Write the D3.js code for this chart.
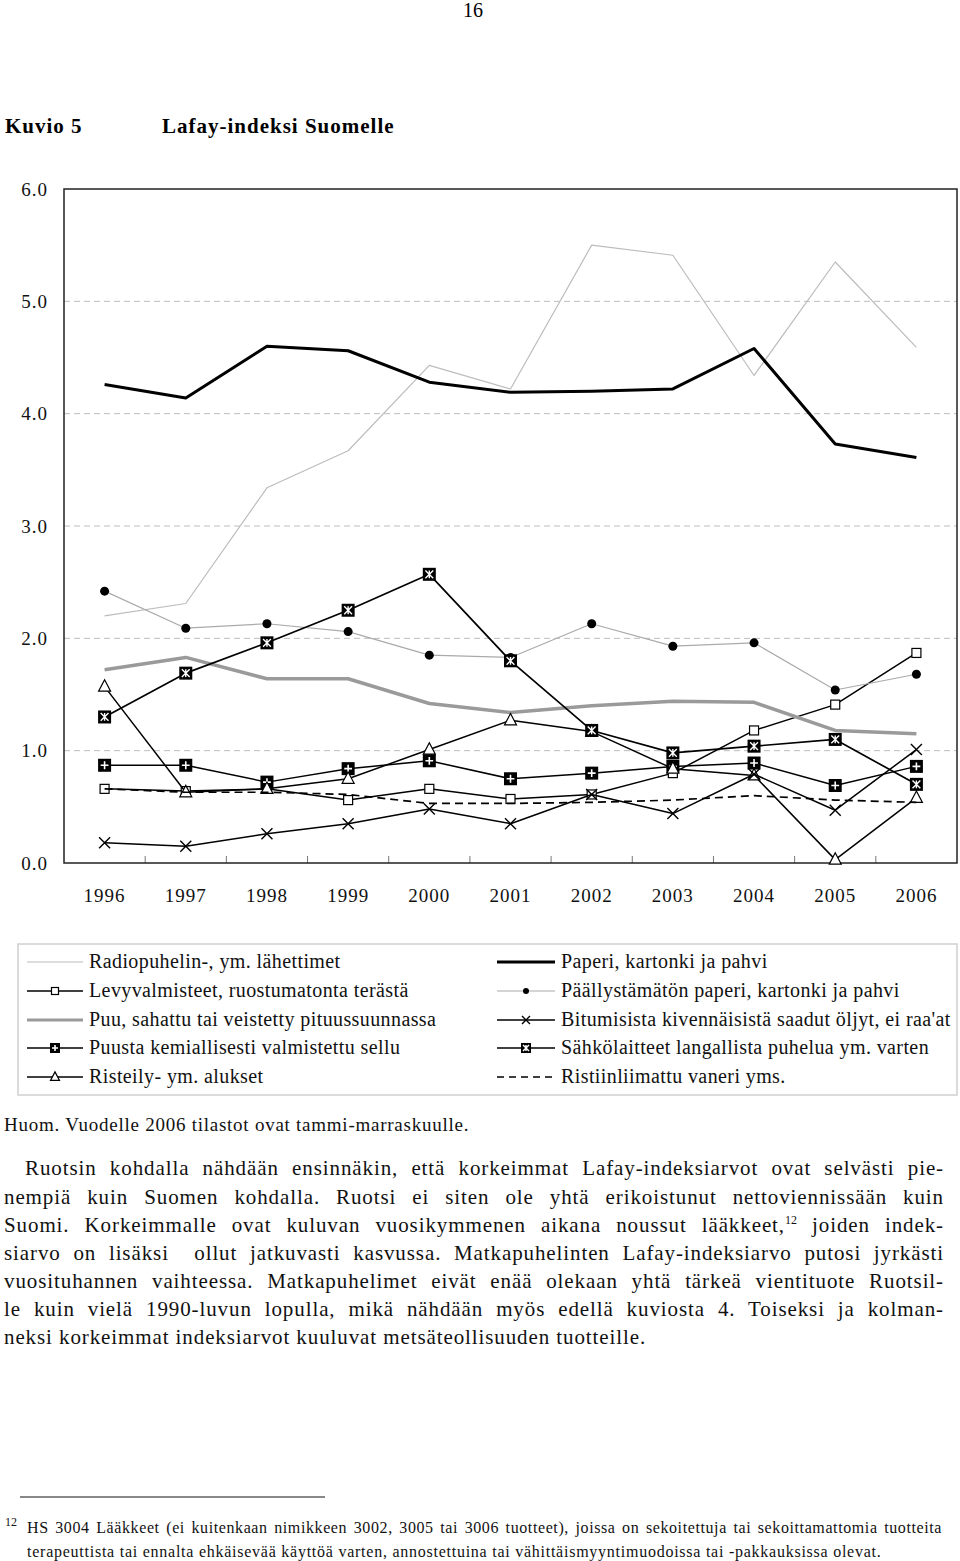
<!DOCTYPE html>
<html>
<head>
<meta charset="utf-8">
<script src="https://cdn.jsdelivr.net/npm/d3@7"></script>
<style>
body { margin: 0; background: #fff; }
#page { position: relative; width: 960px; height: 1561px; font-family: "Liberation Serif", "DejaVu Serif", serif; color: #111; overflow: hidden; }
#page svg { position: absolute; left: 0; top: 0; }
.ln { position: absolute; white-space: nowrap; display: inline-block; }
sup { font-size: 12px; line-height: 0; vertical-align: 8px; letter-spacing: 0; }
</style>
</head>
<body>
<div id="page"></div>
<script>
var years = ['1996', '1997', '1998', '1999', '2000', '2001', '2002', '2003', '2004', '2005', '2006'];
var yTicks = [0, 1, 2, 3, 4, 5, 6];

var radiopuhelin   = [2.20, 2.31, 3.34, 3.67, 4.43, 4.22, 5.50, 5.41, 4.34, 5.35, 4.59];
var paperi         = [4.26, 4.14, 4.60, 4.56, 4.28, 4.19, 4.20, 4.22, 4.58, 3.73, 3.61];
var paallystamaton = [2.42, 2.09, 2.13, 2.06, 1.85, 1.83, 2.13, 1.93, 1.96, 1.54, 1.68];
var levyvalmisteet = [0.66, 0.64, 0.66, 0.56, 0.66, 0.57, 0.61, 0.80, 1.18, 1.41, 1.87];
var puu            = [1.72, 1.83, 1.64, 1.64, 1.42, 1.34, 1.40, 1.44, 1.43, 1.18, 1.15];
var sellu          = [0.87, 0.87, 0.72, 0.84, 0.91, 0.75, 0.80, 0.86, 0.89, 0.69, 0.86];
var risteily       = [1.57, 0.63, 0.66, 0.75, 1.01, 1.27, 1.17, 0.84, 0.78, 0.03, 0.58];
var bitumi         = [0.18, 0.15, 0.26, 0.35, 0.48, 0.35, 0.61, 0.44, 0.79, 0.47, 1.01];
var sahko          = [1.30, 1.69, 1.96, 2.25, 2.57, 1.80, 1.18, 0.98, 1.04, 1.10, 0.70];
var vaneri         = [0.66, 0.63, 0.63, 0.61, 0.53, 0.53, 0.54, 0.56, 0.60, 0.56, 0.54];

var series = [
    { name: 'Radiopuhelin-, ym. lähettimet', values: radiopuhelin, color: '#bcbcbc', width: 1.2, marker: null, col: 0 },
    { name: 'Levyvalmisteet, ruostumatonta terästä', values: levyvalmisteet, color: '#000', width: 1.5, marker: 'square', col: 0 },
    { name: 'Puu, sahattu tai veistetty pituussuunnassa', values: puu, color: '#9a9a9a', width: 3.5, marker: null, col: 0 },
    { name: 'Puusta kemiallisesti valmistettu sellu', values: sellu, color: '#000', width: 1.5, marker: 'plus', col: 0 },
    { name: 'Risteily- ym. alukset', values: risteily, color: '#000', width: 1.5, marker: 'triangle', col: 0 },
    { name: 'Paperi, kartonki ja pahvi', values: paperi, color: '#000', width: 3, marker: null, col: 1 },
    { name: 'Päällystämätön paperi, kartonki ja pahvi', values: paallystamaton, color: '#aaa', width: 1.2, marker: 'dot', col: 1 },
    { name: "Bitumisista kivennäisistä saadut öljyt, ei raa'at", values: bitumi, color: '#000', width: 1.5, marker: 'x', col: 1 },
    { name: 'Sähkölaitteet langallista puhelua ym. varten', values: sahko, color: '#000', width: 1.7, marker: 'zh', col: 1 },
    { name: 'Ristiinliimattu vaneri yms.', values: vaneri, color: '#000', width: 1.7, marker: null, dash: '8,5', col: 1 }
];

var page = d3.select('#page');
var svg = page.append('svg').attr('width', 960).attr('height', 1561);

var x = d3.scaleBand().domain(years).range([64, 957]);
var y = d3.scaleLinear().domain([0, 6]).range([863, 189]);
function cx(d) { return x(d) + x.bandwidth() / 2; }

// page number and title
svg.append('text').attr('x', 473).attr('y', 17).attr('text-anchor', 'middle')
    .attr('font-size', 20).text('16');
svg.append('text').attr('x', 5).attr('y', 133).attr('font-size', 21).attr('letter-spacing', 1)
    .attr('font-weight', 'bold').text('Kuvio 5');
svg.append('text').attr('x', 162).attr('y', 133).attr('font-size', 21).attr('letter-spacing', 1)
    .attr('font-weight', 'bold').text('Lafay-indeksi Suomelle');

// grid
svg.append('g').selectAll('line').data(yTicks.filter(function(t) { return t > 0 && t < 6; }))
    .join('line')
    .attr('x1', 64).attr('x2', 957)
    .attr('y1', function(d) { return y(d); }).attr('y2', function(d) { return y(d); })
    .attr('stroke', '#bdbdbd').attr('stroke-width', 1).attr('stroke-dasharray', '6,4');

// axes
var yAxis = svg.append('g').attr('transform', 'translate(64,0)')
    .call(d3.axisLeft(y).tickValues(yTicks).tickSize(0).tickPadding(16).tickFormat(d3.format('.1f')));
yAxis.select('.domain').remove();
yAxis.selectAll('text').attr('font-size', 19).attr('letter-spacing', 1)
    .attr('font-family', '"Liberation Serif", serif').attr('fill', '#111');

var xAxis = svg.append('g').attr('transform', 'translate(0,863)')
    .call(d3.axisBottom(x).tickSize(0).tickPadding(26));
xAxis.select('.domain').remove();
xAxis.selectAll('text').attr('font-size', 19).attr('letter-spacing', 1)
    .attr('font-family', '"Liberation Serif", serif').attr('fill', '#111');

// inner tick marks between categories
svg.append('g').selectAll('line').data(years.slice(1)).join('line')
    .attr('x1', function(d) { return x(d); }).attr('x2', function(d) { return x(d); })
    .attr('y1', 863).attr('y2', 856)
    .attr('stroke', '#777').attr('stroke-width', 1);

svg.append('rect').attr('x', 64).attr('y', 189).attr('width', 893).attr('height', 674)
    .attr('fill', 'none').attr('stroke', '#222').attr('stroke-width', 1.5);

// markers
function drawMarker(g, type, px, py, s) {
    if (type === 'square') {
        g.append('rect').attr('x', px - s / 2).attr('y', py - s / 2).attr('width', s).attr('height', s)
            .attr('fill', '#fff').attr('stroke', '#000').attr('stroke-width', 1.2);
    } else if (type === 'plus') {
        g.append('rect').attr('x', px - s / 2).attr('y', py - s / 2).attr('width', s).attr('height', s).attr('fill', '#000');
        var a = s * 0.3;
        g.append('path').attr('d', 'M' + (px - a) + ',' + py + 'H' + (px + a) + 'M' + px + ',' + (py - a) + 'V' + (py + a))
            .attr('stroke', '#fff').attr('stroke-width', 1.6);
    } else if (type === 'triangle') {
        var h = s * 0.95;
        g.append('path').attr('d', 'M' + px + ',' + (py - h * 0.6) + 'L' + (px + s / 2) + ',' + (py + h * 0.4) + 'L' + (px - s / 2) + ',' + (py + h * 0.4) + 'Z')
            .attr('fill', '#fff').attr('stroke', '#000').attr('stroke-width', 1.2);
    } else if (type === 'x') {
        var b = s / 2;
        g.append('path').attr('d', 'M' + (px - b) + ',' + (py - b) + 'L' + (px + b) + ',' + (py + b) + 'M' + (px + b) + ',' + (py - b) + 'L' + (px - b) + ',' + (py + b))
            .attr('stroke', '#000').attr('stroke-width', 1.4).attr('fill', 'none');
    } else if (type === 'dot') {
        g.append('circle').attr('cx', px).attr('cy', py).attr('r', s / 2).attr('fill', '#000');
    } else if (type === 'zh') {
        g.append('rect').attr('x', px - s / 2).attr('y', py - s / 2).attr('width', s).attr('height', s).attr('fill', '#000');
        var c = s * 0.3;
        g.append('path').attr('d', 'M' + (px - c) + ',' + (py - c) + 'L' + (px + c) + ',' + (py + c) + 'M' + (px + c) + ',' + (py - c) + 'L' + (px - c) + ',' + (py + c) + 'M' + px + ',' + (py - c) + 'V' + (py + c))
            .attr('stroke', '#fff').attr('stroke-width', 1.4);
    }
}
var markerSize = { square: 9, plus: 13, triangle: 12, x: 11, dot: 9, zh: 13 };
var legendSize = { square: 7, plus: 10, triangle: 9, x: 8, dot: 6, zh: 10 };

var line = d3.line().x(function(d) { return cx(d.year); }).y(function(d) { return y(d.v); });

var plot = svg.append('g');
series.forEach(function(s) {
    var pts = years.map(function(yr, i) { return { year: yr, v: s.values[i] }; });
    var g = plot.append('g');
    g.append('path').datum(pts).attr('d', line)
        .attr('fill', 'none').attr('stroke', s.color).attr('stroke-width', s.width)
        .attr('stroke-dasharray', s.dash || null).attr('stroke-linejoin', 'round');
    if (s.marker) {
        pts.forEach(function(p) { drawMarker(g, s.marker, cx(p.year), y(p.v), markerSize[s.marker]); });
    }
});

// legend
svg.append('rect').attr('x', 18).attr('y', 944).attr('width', 939).attr('height', 151)
    .attr('fill', 'none').attr('stroke', '#cfcfcf').attr('stroke-width', 1.5);
var rowsY = [962, 991, 1020, 1048, 1077];
var colX = [{ x1: 27, x2: 83, tx: 89 }, { x1: 497, x2: 555, tx: 561 }];
var counters = [0, 0];
series.forEach(function(s) {
    var c = colX[s.col];
    var ry = rowsY[counters[s.col]++];
    var g = svg.append('g');
    g.append('line').attr('x1', c.x1).attr('x2', c.x2).attr('y1', ry).attr('y2', ry)
        .attr('stroke', s.color).attr('stroke-width', Math.min(s.width, 3))
        .attr('stroke-dasharray', s.dash ? '7,5' : null);
    if (s.marker) drawMarker(g, s.marker, (c.x1 + c.x2) / 2, ry, legendSize[s.marker]);
    g.append('text').attr('x', c.tx).attr('y', ry + 6).attr('font-size', 20).attr('letter-spacing', 0.4)
        .attr('fill', '#111').text(s.name);
});

// notes and body text; justified lines get their word spacing measured to fit
function addLine(html, left, top, size, lh, ls, target) {
    var div = page.append('div').attr('class', 'ln')
        .style('left', left + 'px').style('top', top + 'px')
        .style('font-size', size + 'px').style('line-height', lh + 'px')
        .style('letter-spacing', ls + 'px')
        .html(html);
    if (target) {
        var w = div.node().getBoundingClientRect().width;
        var gaps = (div.node().textContent.match(/[ \u00a0]/g) || []).length;
        if (gaps) div.style('word-spacing', ((target - w) / gaps) + 'px');
    }
    return div;
}
addLine('Huom. Vuodelle 2006 tilastot ovat tammi-marraskuulle.', 4, 1113, 19, 24, 0.75, null);

var para = [
    'Ruotsin kohdalla nähdään ensinnäkin, että korkeimmat Lafay-indeksiarvot ovat selvästi pie-',
    'nempiä kuin Suomen kohdalla. Ruotsi ei siten ole yhtä erikoistunut nettoviennissään kuin',
    'Suomi. Korkeimmalle ovat kuluvan vuosikymmenen aikana noussut lääkkeet,<sup>12</sup> joiden indek-',
    'siarvo on lisäksi&nbsp; ollut jatkuvasti kasvussa. Matkapuhelinten Lafay-indeksiarvo putosi jyrkästi',
    'vuosituhannen vaihteessa. Matkapuhelimet eivät enää olekaan yhtä tärkeä vientituote Ruotsil-',
    'le kuin vielä 1990-luvun lopulla, mikä nähdään myös edellä kuviosta 4. Toiseksi ja kolman-',
    'neksi korkeimmat indeksiarvot kuuluvat metsäteollisuuden tuotteille.'
];
var paraY = [1168, 1197, 1225, 1253, 1281, 1309, 1337];
para.forEach(function(t, i) {
    var last = i === para.length - 1;
    var left = i === 0 ? 25 : 4;
    addLine(t, left, paraY[i] - 14, 21, 28, 0.9, last ? null : 944 - left);
});

svg.append('line').attr('x1', 20).attr('x2', 325).attr('y1', 1497).attr('y2', 1497)
    .attr('stroke', '#111').attr('stroke-width', 1);
addLine('12', 5, 1515, 12, 14, 0, null);
addLine('HS 3004 Lääkkeet (ei kuitenkaan nimikkeen 3002, 3005 tai 3006 tuotteet), joissa on sekoitettuja tai sekoittamattomia tuotteita',
    27, 1518, 16, 20, 0.6, 915);
addLine('terapeuttista tai ennalta ehkäisevää käyttöä varten, annostettuina tai vähittäismyyntimuodoissa tai -pakkauksissa olevat.',
    27, 1542, 16, 20, 0.75, null);
</script>
</body>
</html>
